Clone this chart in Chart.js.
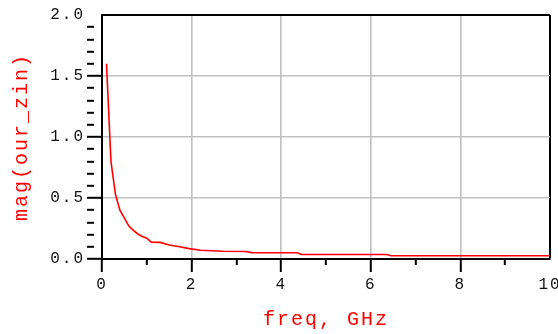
<!DOCTYPE html>
<html>
<head>
<meta charset="utf-8">
<script src="https://cdn.jsdelivr.net/npm/chart.js@4/dist/chart.umd.min.js"></script>
<style>
  html, body { margin: 0; padding: 0; background: #fff; }
  #wrap { width: 558px; height: 334px; }
</style>
</head>
<body>
<div id="wrap"><canvas id="zinChart"></canvas></div>
<script>
// frequency in GHz and |Zin|
const freqGHz = [0.1, 0.2, 0.3, 0.4, 0.5, 0.6, 0.7, 0.8, 0.9, 1.0, 1.1, 1.3, 1.5, 1.7, 1.95, 2.2, 2.7, 3.2, 3.35, 4.35, 4.45, 6.35, 6.45, 10];
const magZin = [1.60, 0.80, 0.53, 0.40, 0.335, 0.27, 0.235, 0.205, 0.185, 0.17, 0.138, 0.136, 0.115, 0.102, 0.085, 0.072, 0.063, 0.062, 0.052, 0.051, 0.038, 0.037, 0.027, 0.027];

const xMin = 0, xMax = 10, xStep = 1;
const yMin = 0, yMax = 2, yStep = 0.1;

const gridGray = '#c0c0c0';
const fontFamily = '"Liberation Mono", "DejaVu Sans Mono", monospace';

// canvas has no letter-spacing option in Chart.js, set it on the context
const spacingPlugin = {
    id: 'spacing',
    beforeDraw(chart) {
        chart.ctx.letterSpacing = '2px';
    }
};

const isMajorY = v => Math.round(v * 10) % 5 === 0;
const isMajorX = v => Math.round(v) % 2 === 0;

const ctx = document.getElementById('zinChart');

new Chart(ctx, {
    type: 'line',
    data: {
        datasets: [{
            label: 'mag(our_zin)',
            data: freqGHz.map((f, i) => ({ x: f, y: magZin[i] })),
            borderColor: '#ff0000',
            borderWidth: 1.6,
            pointRadius: 0,
            tension: 0,
            fill: false
        }]
    },
    options: {
        responsive: true,
        maintainAspectRatio: false,
        animation: false,
        layout: {
            padding: { left: 0, top: 15, right: 8, bottom: 0 }
        },
        plugins: {
            legend: { display: false },
            tooltip: { enabled: false }
        },
        scales: {
            x: {
                type: 'linear',
                min: xMin,
                max: xMax,
                afterFit: function(scale) {
                    scale.height = 75;
                    scale.paddingLeft = 0;
                    scale.paddingRight = 0;
                },
                border: { color: '#000', width: 2 },
                grid: {
                    color: c => {
                        const v = c.tick.value;
                        if (v === xMax) return '#000';
                        if (v === xMin || !isMajorX(v)) return 'rgba(0,0,0,0)';
                        return gridGray;
                    },
                    lineWidth: c => c.tick.value === xMax ? 2 : 1.6,
                    tickLength: 13,
                    tickWidth: 2,
                    tickColor: c => c.tick.value === xMax ? 'rgba(0,0,0,0)' : '#000',
                    tickBorderDash: c => isMajorX(c.tick.value) ? [] : [5, 100]
                },
                ticks: {
                    stepSize: xStep,
                    autoSkip: false,
                    maxRotation: 0,
                    padding: 3,
                    color: '#111',
                    font: { family: fontFamily, size: 16 },
                    callback: v => isMajorX(v) ? String(v) : ''
                },
                title: {
                    display: true,
                    text: 'freq, GHz',
                    color: '#ff0000',
                    font: { family: fontFamily, size: 20 },
                    padding: { top: 0, bottom: 2 }
                }
            },
            y: {
                type: 'linear',
                min: yMin,
                max: yMax,
                afterFit: function(scale) {
                    scale.width = 102;
                    scale.paddingTop = 0;
                    scale.paddingBottom = 0;
                },
                border: { color: '#000', width: 2 },
                grid: {
                    color: c => {
                        const v = c.tick.value;
                        if (Math.abs(v - yMax) < 1e-9) return '#000';
                        if (Math.abs(v) < 1e-9 || !isMajorY(v)) return 'rgba(0,0,0,0)';
                        return gridGray;
                    },
                    lineWidth: c => Math.abs(c.tick.value - yMax) < 1e-9 ? 2 : 1.6,
                    tickLength: 15,
                    tickWidth: 2,
                    tickColor: c => Math.abs(c.tick.value - yMax) < 1e-9 ? 'rgba(0,0,0,0)' : '#000',
                    tickBorderDash: c => isMajorY(c.tick.value) ? [] : [7, 100]
                },
                ticks: {
                    stepSize: yStep,
                    autoSkip: false,
                    padding: 2,
                    color: '#111',
                    font: { family: fontFamily, size: 16 },
                    callback: v => isMajorY(v) ? v.toFixed(1) : ''
                },
                title: {
                    display: true,
                    text: 'mag(our_zin)',
                    color: '#ff0000',
                    font: { family: fontFamily, size: 20 },
                    padding: { top: 10, bottom: 0 }
                }
            }
        }
    },
    plugins: [spacingPlugin]
});
</script>
</body>
</html>
